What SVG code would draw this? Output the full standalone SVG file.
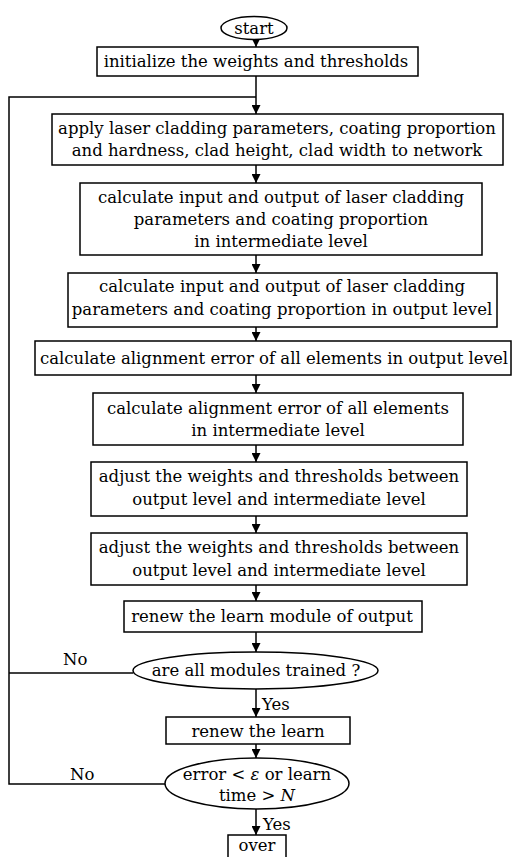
<svg xmlns="http://www.w3.org/2000/svg" width="512" height="857" viewBox="0 0 512 857">
<style>
.b{fill:#fff;stroke:#000;stroke-width:1.5}
.t{font-family:"DejaVu Serif","Liberation Serif",serif;font-size:16.5px;fill:#000;text-anchor:middle}
.l{font-family:"DejaVu Serif","Liberation Serif",serif;font-size:16.5px;fill:#000}
.c{fill:none;stroke:#000;stroke-width:1.5}
</style>
<defs>
<marker id="ah" viewBox="0 0 10 10" refX="10" refY="5" markerWidth="9" markerHeight="9" markerUnits="userSpaceOnUse" orient="auto">
<path d="M0,0 L10,5 L0,10 z" fill="#000"/>
</marker>
</defs>
<rect width="512" height="857" fill="#fff"/>
<g id="connectors">
<line class="c" x1="256" y1="39" x2="256" y2="47" marker-end="url(#ah)"/>
<line class="c" x1="256" y1="76" x2="256" y2="114" marker-end="url(#ah)"/>
<line class="c" x1="256" y1="165" x2="256" y2="183" marker-end="url(#ah)"/>
<line class="c" x1="256" y1="255" x2="256" y2="273" marker-end="url(#ah)"/>
<line class="c" x1="256" y1="327" x2="256" y2="341" marker-end="url(#ah)"/>
<line class="c" x1="256" y1="375" x2="256" y2="393" marker-end="url(#ah)"/>
<line class="c" x1="256" y1="445" x2="256" y2="462" marker-end="url(#ah)"/>
<line class="c" x1="256" y1="516" x2="256" y2="533" marker-end="url(#ah)"/>
<line class="c" x1="256" y1="585" x2="256" y2="601" marker-end="url(#ah)"/>
<line class="c" x1="256" y1="632" x2="256" y2="652" marker-end="url(#ah)"/>
<line class="c" x1="256" y1="689" x2="256" y2="717" marker-end="url(#ah)"/>
<line class="c" x1="256" y1="744" x2="256" y2="758" marker-end="url(#ah)"/>
<line class="c" x1="256" y1="809" x2="256" y2="835" marker-end="url(#ah)"/>
<polyline class="c" points="133,673 9,673"/>
<polyline class="c" points="165,784 9,784 9,97 256,97"/>
<text class="l" x="63" y="665">No</text>
<text class="l" x="70" y="780">No</text>
<text class="l" x="262" y="710">Yes</text>
<text class="l" x="263" y="830">Yes</text>
</g>
<g id="start">
<ellipse class="b" cx="254" cy="28" rx="33" ry="11.5"/>
<text class="t" x="254" y="34">start</text>
</g>
<g id="init">
<rect class="b" x="97" y="47" width="321" height="29"/>
<text class="t" x="256" y="67">initialize the weights and thresholds</text>
</g>
<g id="apply">
<rect class="b" x="52" y="114" width="451" height="51"/>
<text class="t" x="277" y="134">apply laser cladding parameters, coating proportion</text>
<text class="t" x="277" y="156">and hardness, clad height, clad width to network</text>
</g>
<g id="calc1">
<rect class="b" x="80" y="183" width="402" height="72"/>
<text class="t" x="281" y="203">calculate input and output of laser cladding</text>
<text class="t" x="281" y="225">parameters and coating proportion</text>
<text class="t" x="281" y="247">in intermediate level</text>
</g>
<g id="calc2">
<rect class="b" x="68" y="273" width="429" height="54"/>
<text class="t" x="282" y="292">calculate input and output of laser cladding</text>
<text class="t" x="282" y="315">parameters and coating proportion in output level</text>
</g>
<g id="align1">
<rect class="b" x="35" y="341" width="476" height="34"/>
<text class="t" x="274" y="364">calculate alignment error of all elements in output level</text>
</g>
<g id="align2">
<rect class="b" x="93" y="393" width="370" height="52"/>
<text class="t" x="278" y="414">calculate alignment error of all elements</text>
<text class="t" x="278" y="436">in intermediate level</text>
</g>
<g id="adjust1">
<rect class="b" x="91" y="462" width="376" height="54"/>
<text class="t" x="279" y="482">adjust the weights and thresholds between</text>
<text class="t" x="279" y="505">output level and intermediate level</text>
</g>
<g id="adjust2">
<rect class="b" x="91" y="533" width="376" height="52"/>
<text class="t" x="279" y="553">adjust the weights and thresholds between</text>
<text class="t" x="279" y="576">output level and intermediate level</text>
</g>
<g id="renew1">
<rect class="b" x="124" y="601" width="298" height="31"/>
<text class="t" x="272" y="622">renew the learn module of output</text>
</g>
<g id="trained">
<ellipse class="b" cx="255.5" cy="670.5" rx="122.5" ry="18.5"/>
<text class="t" x="256" y="676">are all modules trained ?</text>
</g>
<g id="renew2">
<rect class="b" x="166" y="717" width="184" height="27"/>
<text class="t" x="258" y="737">renew the learn</text>
</g>
<g id="errcheck">
<ellipse class="b" cx="257" cy="783.5" rx="92" ry="25.5"/>
<text class="t" x="257" y="780">error &lt; <tspan font-style="italic">ε</tspan> or learn</text>
<text class="t" x="257" y="801">time &gt; <tspan font-style="italic">N</tspan></text>
</g>
<g id="over">
<rect class="b" x="228" y="835" width="58" height="24"/>
<text class="t" x="257" y="851">over</text>
</g>
</svg>
